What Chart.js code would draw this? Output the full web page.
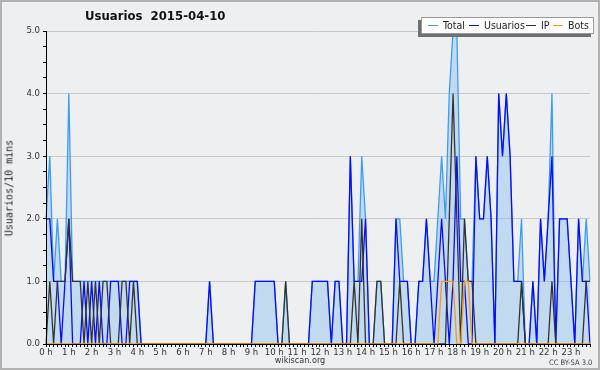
<!DOCTYPE html>
<html>
<head>
<meta charset="utf-8">
<script src="https://cdn.jsdelivr.net/npm/chart.js@4.4.0/dist/chart.umd.min.js"></script>
<style>
  html, body { margin: 0; padding: 0; }
  body {
    width: 600px; height: 370px; overflow: hidden; position: relative;
    background: #eeeff1;
    font-family: "DejaVu Sans Condensed", "DejaVu Sans", sans-serif;
    color: #222;
  }
  #frame { position: absolute; left: 0; top: 0; width: 596px; height: 366px; border: 2px solid #b2b2b2; }
  #chart { position: absolute; left: 0; top: 0; }
  #title { position: absolute; left: 85px; top: 8px; font-size: 13px; font-weight: bold; white-space: pre; color: #111; }
  #ytitle {
    position: absolute; left: 9px; top: 188px; white-space: pre;
    font-family: "DejaVu Sans Mono", monospace; font-size: 10px; color: #222;
    transform: translate(-50%, -50%) rotate(-90deg);
  }
  #legend {
    position: absolute; left: 421px; top: 17px; width: 171px; height: 15px;
    background: #fff; border: 1px solid #999; box-shadow: -3px 3px 0 #707070;
  }
  .item { position: absolute; top: 0; font-size: 10.5px; line-height: 15px; color: #222; white-space: pre; }
  .swatch { position: absolute; top: 7px; width: 10px; height: 0; border-top: 1.5px solid; }
  #site { position: absolute; left: 0; width: 600px; top: 355px; text-align: center; font-size: 9px; color: #333; }
  #cc { position: absolute; left: 549px; top: 358px; font-size: 7.5px; color: #444; white-space: pre; }
</style>
</head>
<body>
<div id="frame"></div>
<canvas id="chart" width="600" height="370"></canvas>
<div id="title">Usuarios  2015-04-10</div>
<div id="ytitle">Usuarios/10 mins</div>
<div id="legend"></div>
<div id="site">wikiscan.org</div>
<div id="cc">CC BY-SA 3.0</div>
<script>
// one value every 10 minutes, one row per hour
const total = [
  2,3,1,2,1,1,  4,1,1,1,1,1,  1,1,1,1,1,1,  1,1,1,1,1,1,
  1,0,0,0,0,0,  0,0,0,0,0,0,  0,0,0,0,0,0,  0,1,0,0,0,0,
  0,0,0,0,0,0,  0,1,1,1,1,1,  1,0,0,1,0,0,  0,0,0,0,1,1,
  1,1,1,0,1,1,  0,0,3,1,1,3,  2,0,0,1,1,0,  0,0,2,2,1,1,
  0,0,1,1,2,1,  1,2,3,2,4,5,  5,2,2,1,1,3,  2,2,3,2,0,4,
  3,4,3,1,1,2,  0,0,1,0,2,1,  2,4,0,2,2,2,  1,0,2,1,2,1
];
const usuarios = [
  2,2,1,1,0,1,  2,0,0,0,1,0,  1,0,1,0,0,1,  1,1,0,0,1,1,
  1,0,0,0,0,0,  0,0,0,0,0,0,  0,0,0,0,0,0,  0,1,0,0,0,0,
  0,0,0,0,0,0,  0,1,1,1,1,1,  1,0,0,0,0,0,  0,0,0,0,1,1,
  1,1,1,0,1,1,  0,0,3,1,1,1,  2,0,0,0,0,0,  0,0,2,1,1,1,
  0,0,1,1,2,1,  0,1,2,1,0,1,  3,1,1,0,0,3,  2,2,3,2,0,4,
  3,4,3,1,1,1,  0,0,1,0,2,1,  2,3,0,2,2,2,  1,0,2,1,1,0
];
const ip = [
  0,1,0,1,1,1,  2,1,1,1,0,1,  0,1,0,1,1,0,  0,0,1,1,0,1,
  0,0,0,0,0,0,  0,0,0,0,0,0,  0,0,0,0,0,0,  0,0,0,0,0,0,
  0,0,0,0,0,0,  0,0,0,0,0,0,  0,0,0,1,0,0,  0,0,0,0,0,0,
  0,0,0,0,0,0,  0,0,0,1,0,2,  0,0,0,1,1,0,  0,0,0,1,0,0,
  0,0,0,0,0,0,  0,0,0,0,2,4,  2,0,2,1,1,0,  0,0,0,0,0,0,
  0,0,0,0,0,1,  0,0,0,0,0,0,  0,1,0,0,0,0,  0,0,0,0,1,1
];
const bots = [
  0,0,0,0,0,0,  0,0,0,0,0,0,  0,0,0,0,0,0,  0,0,0,0,0,0,
  0,0,0,0,0,0,  0,0,0,0,0,0,  0,0,0,0,0,0,  0,0,0,0,0,0,
  0,0,0,0,0,0,  0,0,0,0,0,0,  0,0,0,0,0,0,  0,0,0,0,0,0,
  0,0,0,0,0,0,  0,0,0,0,0,0,  0,0,0,0,0,0,  0,0,0,0,0,0,
  0,0,0,0,0,0,  0,0,1,1,1,1,  0,0,1,1,0,0,  0,0,0,0,0,0,
  0,0,0,0,0,0,  0,0,0,0,0,0,  0,0,0,0,0,0,  0,0,0,0,0,0
];
const hourLabels = ['0 h','1 h','2 h','3 h','4 h','5 h','6 h','7 h','8 h','9 h','10 h','11 h',
  '12 h','13 h','14 h','15 h','16 h','17 h','18 h','19 h','20 h','21 h','22 h','23 h'];
const seriesNames = ['Total', 'Usuarios', 'IP', 'Bots'];
const seriesColors = ['#3d9cf2', '#0a0aff', '#333333', '#ff9900'];

// 10-minute slots of the day
const slots = [];
for (let h = 0; h < 24; h++) {
  for (let m = 0; m < 60; m += 10) slots.push(h + ':' + String(m).padStart(2, '0'));
}

// legend (drawn as html box with shadow)
const legendPos = [[6, 21], [47, 62], [104, 119], [131, 146]];
const legend = document.getElementById('legend');
seriesNames.forEach((name, i) => {
  const sw = document.createElement('div');
  sw.className = 'swatch';
  sw.style.left = legendPos[i][0] + 'px';
  sw.style.borderColor = seriesColors[i];
  legend.appendChild(sw);
  const t = document.createElement('div');
  t.className = 'item';
  t.style.left = legendPos[i][1] + 'px';
  t.textContent = name;
  legend.appendChild(t);
});

Chart.defaults.font.family = '"DejaVu Sans Condensed", "DejaVu Sans", sans-serif';

const values = [total, usuarios, ip, bots];
new Chart(document.getElementById('chart'), {
  type: 'line',
  data: {
    labels: slots,
    datasets: values.map((d, i) => ({
      label: seriesNames[i],
      data: d,
      borderColor: seriesColors[i],
      backgroundColor: i === 0 ? 'rgba(105,179,238,0.34)' : 'transparent',
      fill: i === 0 ? 'origin' : false,
      order: 4 - i
    }))
  },
  options: {
    responsive: false,
    animation: false,
    elements: {
      line: { borderWidth: 1.3, tension: 0 },
      point: { radius: 0 }
    },
    layout: { padding: { top: 31, right: 10, bottom: 12, left: 0 } },
    plugins: { legend: { display: false }, tooltip: { enabled: false } },
    scales: {
      x: {
        afterFit: s => { s.height = 14; },
        border: { color: '#000', z: 1 },
        grid: { drawOnChartArea: false, tickLength: 3, color: '#000' },
        ticks: {
          autoSkip: false, maxRotation: 0, padding: 0, color: '#333',
          font: { size: 9.5 },
          callback: (v, i) => i % 6 === 0 ? hourLabels[i / 6] : ''
        }
      },
      y: {
        min: 0, max: 5,
        afterFit: s => { s.width = 46; },
        border: { color: '#000', z: 1 },
        grid: {
          color: c => (c.tick && c.tick.value > 0 && c.tick.value % 1 === 0) ? '#c8c8c8' : 'rgba(0,0,0,0)',
          tickColor: '#000', tickLength: 3
        },
        ticks: {
          stepSize: 0.25, padding: 3, color: '#333',
          font: { size: 9.5 },
          callback: v => v % 1 === 0 ? v.toFixed(1) : ''
        }
      }
    }
  }
});
</script>
</body>
</html>
